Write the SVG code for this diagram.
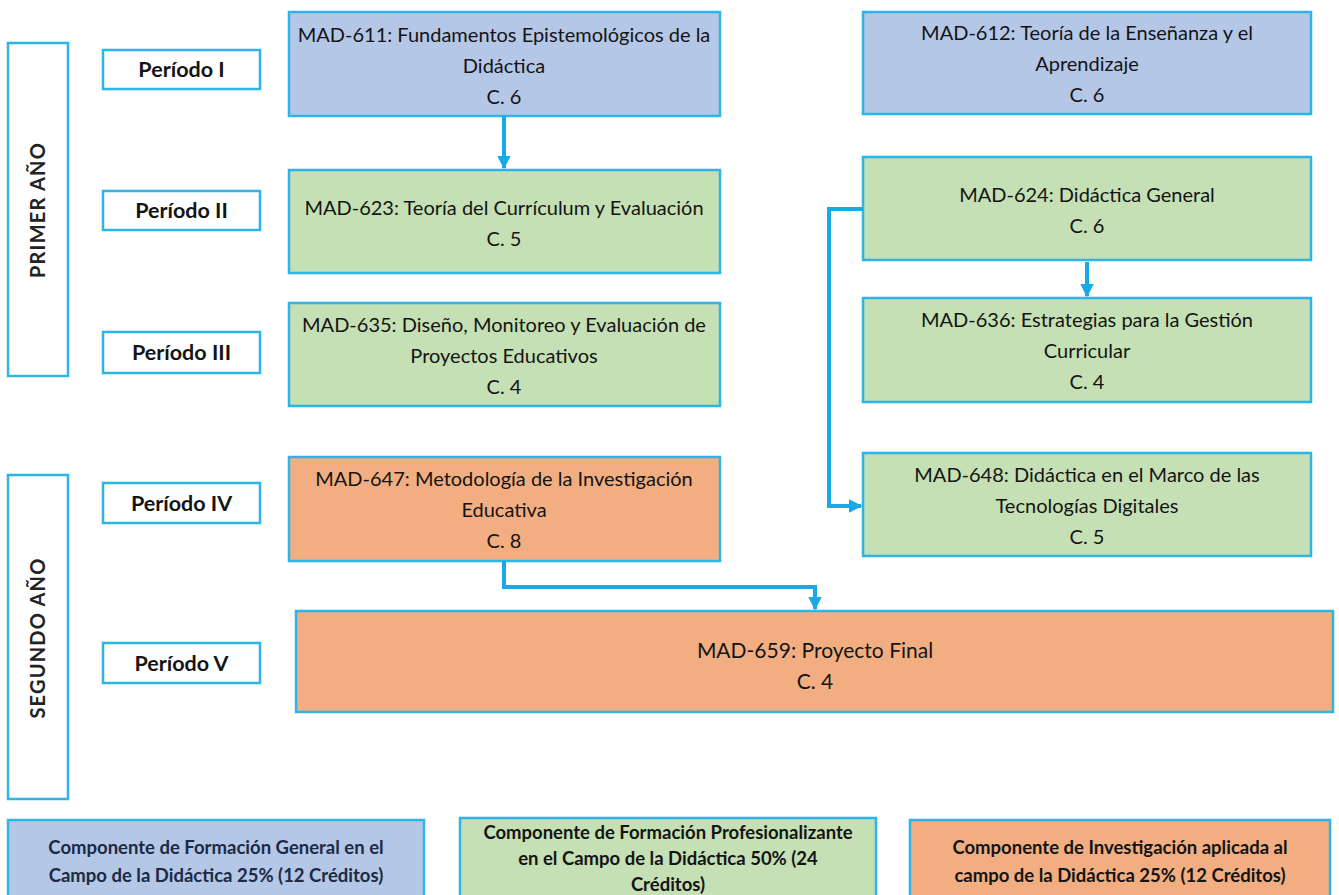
<svg xmlns="http://www.w3.org/2000/svg" width="1339" height="895" viewBox="0 0 1339 895">
<style>
.bg{fill:#ffffff}
.yr{fill:#ffffff;stroke:#2cb5e6;stroke-width:2.5}
.per{fill:#ffffff;stroke:#2cb5e6;stroke-width:2.5}
.blue{fill:#b4c7e7;stroke:#2cb5e6;stroke-width:2.5}
.green{fill:#c5e0b4;stroke:#2cb5e6;stroke-width:2.5}
.orange{fill:#f2ae80;stroke:#2cb5e6;stroke-width:2.5}
text{font-family:Lato,"Open Sans","Liberation Sans",sans-serif;fill:#141414;text-anchor:middle}
.t{font-size:20px}
.pt{font-size:21.5px;font-weight:bold}
.yt{font-size:20px;font-weight:bold;letter-spacing:1.2px;fill:#222}
.ft{font-size:21px}
.lt{font-size:18.5px;font-weight:bold}
.conn{fill:none;stroke:#19a9e6;stroke-width:4}
</style>
<defs>
<marker id="ah" viewBox="0 0 10 10" refX="9" refY="5" markerWidth="3.4" markerHeight="3.4" orient="auto" markerUnits="strokeWidth">
<path d="M0,0 L10,5 L0,10 z" fill="#19a9e6"/>
</marker>
</defs>
<rect class="bg" x="0" y="0" width="1339" height="895"/>

<g id="primer-ano">
<rect class="yr" x="8" y="43" width="60" height="333"/>
<text class="yt" transform="translate(45,210) rotate(-90)">PRIMER AÑO</text>
</g>
<g id="segundo-ano">
<rect class="yr" x="8" y="475" width="60" height="324"/>
<text class="yt" transform="translate(45,638) rotate(-90)">SEGUNDO AÑO</text>
</g>

<g id="periodo-1"><rect class="per" x="103" y="50" width="157" height="39"/><text class="pt" x="181.5" y="77">Período I</text></g>
<g id="periodo-2"><rect class="per" x="103" y="191" width="157" height="39"/><text class="pt" x="181.5" y="218">Período II</text></g>
<g id="periodo-3"><rect class="per" x="103" y="332" width="157" height="41"/><text class="pt" x="181.5" y="360">Período III</text></g>
<g id="periodo-4"><rect class="per" x="103" y="483" width="157" height="40"/><text class="pt" x="181.5" y="511">Período IV</text></g>
<g id="periodo-5"><rect class="per" x="103" y="643" width="157" height="40"/><text class="pt" x="181.5" y="671">Período V</text></g>

<g id="mad-611"><rect class="blue" x="289" y="12" width="431" height="104"/>
<text class="t" x="504" y="42">MAD-611: Fundamentos Epistemológicos de la</text>
<text class="t" x="504" y="73">Didáctica</text>
<text class="t" x="504" y="104">C. 6</text></g>

<g id="mad-612"><rect class="blue" x="863" y="12" width="448" height="102"/>
<text class="t" x="1087" y="40">MAD-612: Teoría de la Enseñanza y el</text>
<text class="t" x="1087" y="71">Aprendizaje</text>
<text class="t" x="1087" y="102">C. 6</text></g>

<g id="mad-623"><rect class="green" x="289" y="170" width="431" height="103"/>
<text class="t" x="504" y="215">MAD-623: Teoría del Currículum y Evaluación</text>
<text class="t" x="504" y="246">C. 5</text></g>

<g id="mad-624"><rect class="green" x="863" y="157" width="448" height="103"/>
<text class="t" x="1087" y="202">MAD-624: Didáctica General</text>
<text class="t" x="1087" y="233">C. 6</text></g>

<g id="mad-635"><rect class="green" x="289" y="303" width="431" height="103"/>
<text class="t" x="504" y="332">MAD-635: Diseño, Monitoreo y Evaluación de</text>
<text class="t" x="504" y="363">Proyectos Educativos</text>
<text class="t" x="504" y="394">C. 4</text></g>

<g id="mad-636"><rect class="green" x="863" y="298" width="448" height="104"/>
<text class="t" x="1087" y="327">MAD-636: Estrategias para la Gestión</text>
<text class="t" x="1087" y="358">Curricular</text>
<text class="t" x="1087" y="389">C. 4</text></g>

<g id="mad-647"><rect class="orange" x="289" y="457" width="431" height="104"/>
<text class="t" x="504" y="486">MAD-647: Metodología de la Investigación</text>
<text class="t" x="504" y="517">Educativa</text>
<text class="t" x="504" y="548">C. 8</text></g>

<g id="mad-648"><rect class="green" x="863" y="453" width="448" height="103"/>
<text class="t" x="1087" y="482">MAD-648: Didáctica en el Marco de las</text>
<text class="t" x="1087" y="513">Tecnologías Digitales</text>
<text class="t" x="1087" y="544">C. 5</text></g>

<g id="mad-659"><rect class="orange" x="296" y="611" width="1037" height="101"/>
<text class="ft" x="815" y="658">MAD-659: Proyecto Final</text>
<text class="ft" x="815" y="689">C.  4</text></g>

<g id="legend-general"><rect class="blue" x="8" y="820" width="416" height="85"/>
<text class="lt" x="216" y="854" style="fill:#1c2a44">Componente de Formación General en el</text>
<text class="lt" x="216" y="882" style="fill:#1c2a44">Campo de la Didáctica 25% (12 Créditos)</text></g>

<g id="legend-profesional"><rect class="green" x="460" y="818" width="416" height="87"/>
<text class="lt" x="668" y="839">Componente de Formación Profesionalizante</text>
<text class="lt" x="668" y="865">en el Campo de la Didáctica 50% (24</text>
<text class="lt" x="668" y="891">Créditos)</text></g>

<g id="legend-investigacion"><rect class="orange" x="910" y="820" width="420" height="85"/>
<text class="lt" x="1120" y="854">Componente de Investigación aplicada al</text>
<text class="lt" x="1120" y="882">campo de la Didáctica 25% (12 Créditos)</text></g>

<g id="connectors">
<path class="conn" d="M504,116 V168" marker-end="url(#ah)"/>
<path class="conn" d="M1087,262 V296" marker-end="url(#ah)"/>
<path class="conn" d="M863,209 H829 V506 H861" marker-end="url(#ah)"/>
<path class="conn" d="M504,561 V587 H815 V609" marker-end="url(#ah)"/>
</g>
</svg>
